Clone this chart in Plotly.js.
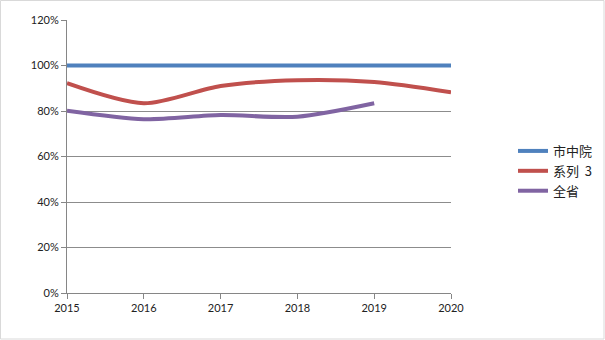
<!DOCTYPE html>
<html><head><meta charset="utf-8">
<script src="https://cdn.plot.ly/plotly-3.0.1.min.js"></script>
<style>html,body{margin:0;padding:0;background:#fff;}#chart{width:605px;height:340px;}</style>
</head><body><div id="chart"></div>
<script>
const years = ['2015','2016','2017','2018','2019','2020'];
const cityHospital = [1.00, 1.00, 1.00, 1.00, 1.00, 1.00];
const series3 = [0.922, 0.834, 0.91, 0.935, 0.927, 0.882];
const province = [0.801, 0.764, 0.782, 0.775, 0.834];
const names = ['市中院', '系列  3', '全省'];
const yTicks = [0, 0.2, 0.4, 0.6, 0.8, 1.0, 1.2];
const yTickText = ['0%', '20%', '40%', '60%', '80%', '100%', '120%'];

const colors = ['#4F81BD', '#C0504D', '#8064A2'];
const data = [
  {x: years, y: cityHospital, name: names[0]},
  {x: years, y: series3, name: names[1]},
  {x: years.slice(0, province.length), y: province, name: names[2]}
].map((t, i) => Object.assign(t, {
  type: 'scatter', mode: 'lines',
  line: {color: colors[i], width: 4, shape: 'spline', smoothing: 0.8}
}));

const W = 384;
const layout = {
  width: 605, height: 340,
  margin: {l: 67, r: 154, t: 20, b: 47, autoexpand: false},
  paper_bgcolor: '#fff', plot_bgcolor: '#fff',
  font: {family: 'Lato, "Noto Sans CJK SC", sans-serif', color: '#222', size: 11},
  showlegend: true,
  legend: {x: 1 + 62/W, xanchor: 'left', y: 0.447, yanchor: 'middle',
           font: {family: '"Noto Sans CJK SC", Lato, sans-serif', size: 13, color: '#222'},
           tracegroupgap: 0, itemwidth: 30, bgcolor: 'rgba(0,0,0,0)'},
  xaxis: {type: 'category', range: [0, 5], showgrid: false,
          showline: true, linecolor: '#868686', linewidth: 1,
          ticks: 'outside', ticklen: 5, tickcolor: '#868686',
          tickfont: {size: 11, color: '#222'}, fixedrange: true, zeroline: false},
  yaxis: {range: [0, 1.2], tickvals: yTicks, ticktext: yTickText,
          showgrid: true, gridcolor: '#8c8c8c', gridwidth: 1,
          showline: true, linecolor: '#868686', linewidth: 1,
          ticks: 'outside', ticklen: 5, tickcolor: '#868686',
          tickfont: {size: 11, color: '#222'}, zeroline: false, fixedrange: true},
  shapes: [{type: 'rect', xref: 'paper', yref: 'paper',
            x0: -66.5/W, x1: 1 + 153/W, y0: -46/273, y1: 1 + 19.5/273,
            line: {color: '#d9d9d9', width: 1}}]
};

Plotly.newPlot('chart', data, layout, {staticPlot: true, displayModeBar: false});
</script></body></html>
